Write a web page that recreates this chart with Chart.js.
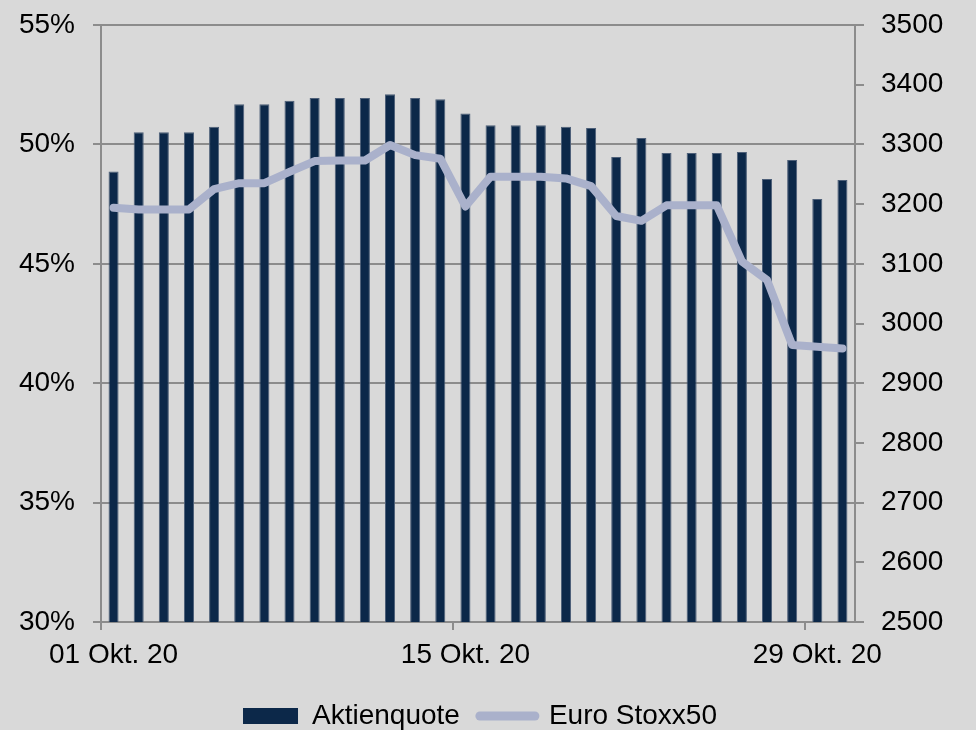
<!DOCTYPE html>
<html>
<head>
<meta charset="utf-8">
<script src="https://cdn.jsdelivr.net/npm/chart.js@4.4.0/dist/chart.umd.min.js"></script>
<style>
  html, body { margin: 0; padding: 0; background: #d9d9d9; overflow: hidden; }
  #wrap { width: 976px; height: 740px; }
</style>
</head>
<body>
<div id="wrap"><canvas id="chart" width="976" height="740"></canvas></div>
<script>
// Tage im Oktober 2020
const tage = ['01 Okt. 20', '02 Okt. 20', '03 Okt. 20', '04 Okt. 20', '05 Okt. 20', '06 Okt. 20',
  '07 Okt. 20', '08 Okt. 20', '09 Okt. 20', '10 Okt. 20', '11 Okt. 20', '12 Okt. 20', '13 Okt. 20',
  '14 Okt. 20', '15 Okt. 20', '16 Okt. 20', '17 Okt. 20', '18 Okt. 20', '19 Okt. 20', '20 Okt. 20',
  '21 Okt. 20', '22 Okt. 20', '23 Okt. 20', '24 Okt. 20', '25 Okt. 20', '26 Okt. 20', '27 Okt. 20',
  '28 Okt. 20', '29 Okt. 20', '30 Okt. 20'];

// Aktienquote in %
const aktienquote = [48.86, 50.51, 50.51, 50.51, 50.74, 51.68, 51.68, 51.83, 51.94, 51.94,
  51.94, 52.10, 51.94, 51.89, 51.29, 50.80, 50.80, 50.80, 50.74, 50.69,
  49.47, 50.27, 49.64, 49.64, 49.64, 49.68, 48.55, 49.35, 47.71, 48.51];

// Euro Stoxx50 Schlusskurse
const stoxx = [3194, 3191, 3191, 3191, 3225, 3235, 3235, 3254, 3272, 3273,
  3273, 3299, 3282, 3276, 3196, 3246, 3246, 3246, 3243, 3230,
  3180, 3172, 3198, 3198, 3198, 3104, 3073, 2964, 2961, 2958];

const labelTage = [0, 14, 28]; // nur diese Tage beschriftet

const balkenFarbe = '#0c2849';
const linienFarbe = '#aab1cb';
const gitterFarbe = '#8c8c8c';

Chart.defaults.font.family = "'Liberation Sans', Arial, sans-serif";
Chart.defaults.font.size = 28;
Chart.defaults.color = '#000';

// feste Breite der y-Achsen, ohne Zusatzabstand oben/unten
function yFit(breite) {
  return (s) => {
    s.width = breite;
    s.paddingTop = 0;
    s.paddingBottom = 0;
  };
}

const ctx = document.getElementById('chart').getContext('2d');
const grafico = new Chart(ctx, {
  type: 'bar',
  data: {
    labels: tage,
    datasets: [{
      label: 'Aktienquote',
      data: aktienquote,
      backgroundColor: balkenFarbe,
      borderColor: '#4d5f78',
      borderWidth: 1,
      categoryPercentage: 1,
      barPercentage: 0.4,
      yAxisID: 'y',
      order: 2
    }, {
      type: 'line',
      label: 'Euro Stoxx50',
      data: stoxx,
      borderColor: linienFarbe,
      backgroundColor: linienFarbe,
      borderWidth: 8,
      borderCapStyle: 'round',
      borderJoinStyle: 'round',
      pointRadius: 0,
      tension: 0,
      yAxisID: 'y2',
      order: 1
    }]
  },
  options: {
    responsive: false,
    animation: false,
    layout: { padding: { top: 25, right: 16, left: 0, bottom: 0 } },
    plugins: {
      tooltip: { enabled: false },
      legend: {
        position: 'bottom',
        labels: {
          usePointStyle: true,
          pointStyleWidth: 55,
          boxHeight: 16,
          padding: 20,
          font: { size: 28 },
          sort: (a, b) => a.datasetIndex - b.datasetIndex,
          generateLabels: (chart) => {
            const items = Chart.defaults.plugins.legend.labels.generateLabels(chart);
            items.forEach(it => {
              if (it.datasetIndex === 0) {
                it.pointStyle = 'rect';
                it.fillStyle = balkenFarbe;
                it.lineWidth = 0;
              } else {
                it.pointStyle = 'line';
                it.strokeStyle = linienFarbe;
                it.lineWidth = 9;
                it.lineCap = 'round';
              }
              it.rotation = 0;
            });
            return items;
          }
        }
      }
    },
    scales: {
      x: {
        offset: true,
        afterFit: (s) => { s.height = 60; },
        grid: {
          offset: true,
          drawOnChartArea: false,
          drawTicks: true,
          tickLength: 8,
          lineWidth: 2,
          tickColor: (c) => labelTage.includes(c.index) ? gitterFarbe : 'rgba(0,0,0,0)'
        },
        border: { display: true, color: gitterFarbe, width: 2 },
        ticks: {
          autoSkip: false,
          maxRotation: 0,
          minRotation: 0,
          padding: 8,
          callback: (v, i) => labelTage.includes(i) ? tage[i] : ''
        }
      },
      y: {
        position: 'left',
        min: 30,
        max: 55,
        afterFit: yFit(101),
        grid: { color: gitterFarbe, lineWidth: 2, tickLength: 8 },
        border: { display: true, color: gitterFarbe, width: 2 },
        ticks: { stepSize: 5, padding: 18, callback: (v) => v + '%' }
      },
      y2: {
        position: 'right',
        min: 2500,
        max: 3500,
        afterFit: yFit(105),
        grid: { drawOnChartArea: false, color: gitterFarbe, lineWidth: 2, tickLength: 9 },
        border: { display: true, color: gitterFarbe, width: 2 },
        ticks: { stepSize: 100, padding: 17, callback: (v) => String(v) }
      }
    }
  }
});
</script>
</body>
</html>
